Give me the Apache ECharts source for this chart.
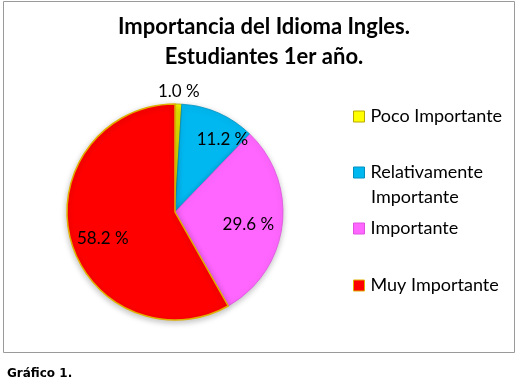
<!DOCTYPE html>
<html><head><meta charset="utf-8">
<script src="https://cdn.jsdelivr.net/npm/echarts@6/dist/echarts.min.js"></script>
<style>html,body{margin:0;padding:0;background:#fff}#c{width:527px;height:386px}</style>
</head><body><div id="c"></div>
<script>
const categories = ['Poco Importante', 'Relativamente Importante', 'Importante', 'Muy Importante'];
const legendLines = [['Poco Importante'], ['Relativamente', 'Importante'], ['Importante'], ['Muy Importante']];
const values = [1.0, 11.2, 29.6, 58.2];
const colors = ['#FFFF00', '#00B8F0', '#FF66FF', '#FF0000'];
const borders = ['#B8A800', '#0090C0', '#E050E0', '#E0B000'];
const legendTops = [104, 160, 216, 273];
const labelOffsets = [[0, 0], [14, 3], [-9, 2], [8, 5]];

const chart = echarts.init(document.getElementById('c'));
const data = categories.map((n, i) => ({ name: n, value: values[i], itemStyle: { color: colors[i] } }));
const fmt = p => p.value.toFixed(1) + ' %';
const FONT = 'Lato';

const legends = categories.map((n, i) => ({
  data: [n], left: 353, top: legendTops[i], orient: 'vertical', padding: 0,
  icon: 'rect', itemWidth: 11, itemHeight: 11, itemGap: 6,
  selectedMode: false,
  formatter: () => legendLines[i][0],
  itemStyle: { borderColor: borders[i], borderWidth: 1 },
  textStyle: { fontFamily: FONT, fontSize: 18, color: '#000', lineHeight: 25, padding: [0, 0, 0, 1] }
}));

// continuation lines of wrapped legend entries
const extraLegendText = [];
legendLines.forEach((lines, i) => {
  lines.slice(1).forEach((t, k) => {
    extraLegendText.push({ text: t, left: 371, top: legendTops[i] + 25 * (k + 1), padding: 0,
      textStyle: { fontFamily: FONT, fontSize: 18, fontWeight: 'normal', color: '#000', lineHeight: 25 } });
  });
});

chart.setOption({
  animation: false,
  title: [
    { text: 'Importancia del Idioma Ingles.\nEstudiantes 1er año.', left: 259, top: 7, textAlign: 'center',
      textStyle: { fontFamily: FONT, fontWeight: 'bold', fontSize: 22, lineHeight: 30, color: '#000' } },
    { text: 'Gráfico 1.', left: 7, top: 368, padding: 0, textStyle: { fontFamily: 'DejaVu Sans', fontWeight: 'bold', fontSize: 12, color: '#000' } }
  ].concat(extraLegendText),
  graphic: [{ type: 'rect', shape: { x: 3.5, y: 1.5, width: 511, height: 351 }, style: { fill: 'none', stroke: '#9a9a9a', lineWidth: 1 }, silent: true, z: -1 }],
  legend: legends,
  series: [
    { type: 'pie', center: [175, 212], radius: [0, 108], startAngle: 90, clockwise: true,
      label: { show: false }, labelLine: { show: false },
      data: data.map((d, i) => ({ ...d, itemStyle: { color: colors[i], borderColor: borders[i], borderWidth: i === 3 ? 1.5 : 0.8,
        shadowBlur: 6, shadowColor: 'rgba(0,0,0,0.25)', shadowOffsetY: 2 } })) },
    { type: 'pie', center: [175, 212], radius: [60, 100], startAngle: 90, clockwise: true, silent: true,
      itemStyle: { color: 'transparent' }, labelLine: { show: false },
      label: { show: true, position: 'inside', formatter: fmt, fontFamily: FONT, fontSize: 17, color: '#000' },
      data: data.map((d, i) => ({ name: d.name, value: d.value, itemStyle: { color: 'transparent' },
        label: { show: i !== 0, offset: labelOffsets[i] } })) },
    { type: 'pie', center: [175, 212], radius: [112, 124], startAngle: 90, clockwise: true, silent: true,
      itemStyle: { color: 'transparent' }, labelLine: { show: false },
      label: { show: true, position: 'inside', formatter: fmt, fontFamily: FONT, fontSize: 17, color: '#000' },
      data: data.map((d, i) => ({ name: d.name, value: d.value, itemStyle: { color: 'transparent' },
        label: { show: i === 0 } })) }
  ]
});
</script></body></html>
